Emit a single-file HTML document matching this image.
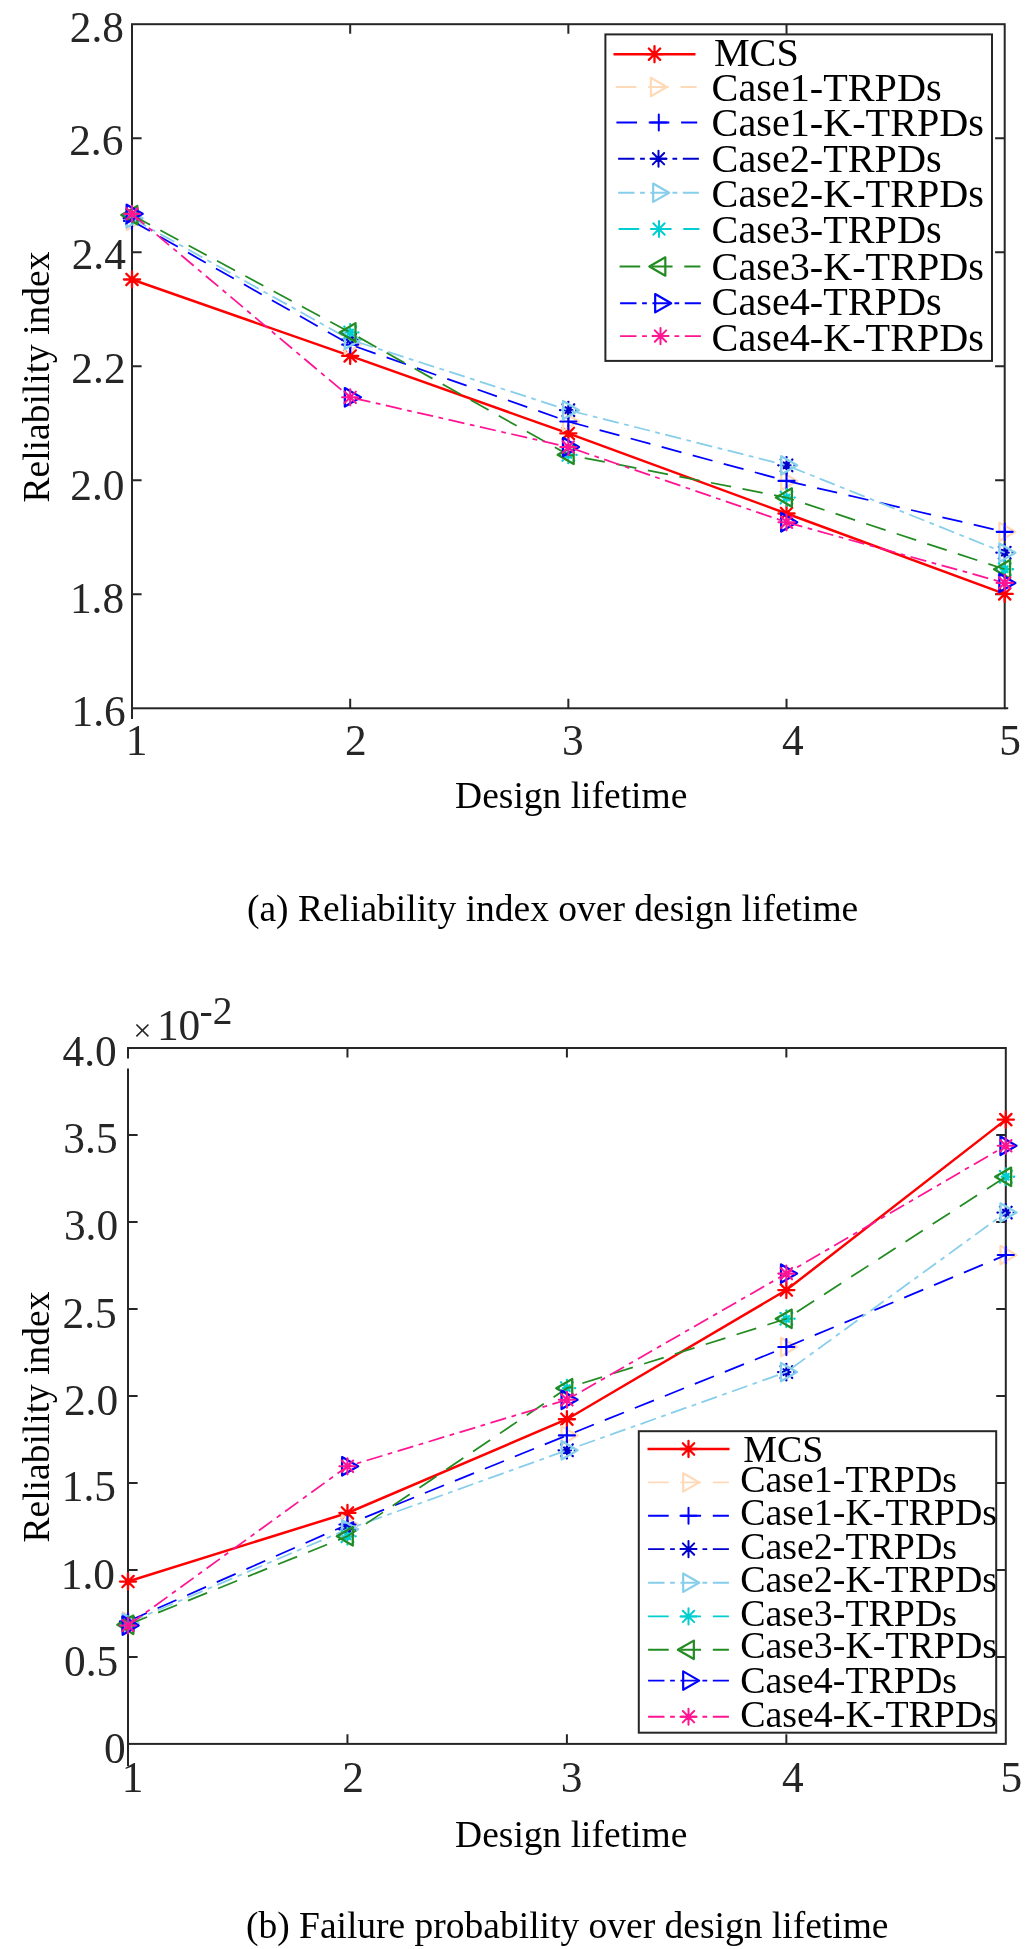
<!DOCTYPE html>
<html><head><meta charset="utf-8"><title>Chart</title>
<style>
html,body{margin:0;padding:0;background:#fff;}
body{width:1025px;height:1949px;overflow:hidden;font-family:"Liberation Serif",serif;}
svg{display:block;position:absolute;left:0;top:0;will-change:transform;}
svg text{font-family:"Liberation Serif",serif;}
</style></head><body>
<svg width="1025" height="1949" viewBox="0 0 1025 1949">
<rect width="1025" height="1949" fill="#fff"/>
<rect x="132.0" y="24.2" width="872.7" height="684.0999999999999" fill="none" stroke="#262626" stroke-width="2.0"/>
<path d="M350.18 708.3V698.6999999999999M350.18 24.2V33.8M568.35 708.3V698.6999999999999M568.35 24.2V33.8M786.53 708.3V698.6999999999999M786.53 24.2V33.8M132.0 138.22H141.6M1004.7 138.22H995.1M132.0 252.23H141.6M1004.7 252.23H995.1M132.0 366.25H141.6M1004.7 366.25H995.1M132.0 480.27H141.6M1004.7 480.27H995.1M132.0 594.28H141.6M1004.7 594.28H995.1" stroke="#262626" stroke-width="2.0" fill="none"/>
<path d="M132.0 708.3V719.0M1004.7 708.3H1008.2" stroke="#262626" stroke-width="2.0"/>
<text x="124.05" y="42.15" font-size="43.4" text-anchor="end" fill="#262626" >2.8</text>
<text x="123.4" y="155.4" font-size="43.4" text-anchor="end" fill="#262626" >2.6</text>
<text x="125.9" y="269.4" font-size="43.4" text-anchor="end" fill="#262626" >2.4</text>
<text x="125.6" y="382.9" font-size="43.4" text-anchor="end" fill="#262626" >2.2</text>
<text x="124.45" y="499.5" font-size="43.4" text-anchor="end" fill="#262626" >2.0</text>
<text x="124.15" y="613.3" font-size="43.4" text-anchor="end" fill="#262626" >1.8</text>
<text x="125.7" y="725.9" font-size="43.4" text-anchor="end" fill="#262626" >1.6</text>
<text x="136.6" y="755.1999999999999" font-size="43.4" text-anchor="middle" fill="#262626" >1</text>
<text x="355.77500000000003" y="755.1999999999999" font-size="43.4" text-anchor="middle" fill="#262626" >2</text>
<text x="572.95" y="755.1999999999999" font-size="43.4" text-anchor="middle" fill="#262626" >3</text>
<text x="792.9250000000001" y="755.1999999999999" font-size="43.4" text-anchor="middle" fill="#262626" >4</text>
<text x="1010.2" y="755.1999999999999" font-size="43.4" text-anchor="middle" fill="#262626" >5</text>
<text x="571.2" y="808.2" font-size="37.5" text-anchor="middle" fill="#000" >Design lifetime</text>
<text x="48.5" y="377" font-size="37.5" text-anchor="middle" fill="#000" transform="rotate(-90 48.5 377)">Reliability index</text>
<text x="552.6" y="920.6" font-size="37.5" text-anchor="middle" fill="#000" >(a) Reliability index over design lifetime</text>
<path d="M132.00 279.48L350.18 355.93L568.35 433.41L786.53 513.50L1004.70 593.94" stroke="#ff0000" stroke-width="2.5" fill="none"/>
<path d="M123.95 279.48H140.05M132.00 271.43V287.53M126.31 273.79L137.69 285.18M126.31 285.18L137.69 273.79" stroke="#ff0000" stroke-width="2.3" fill="none" stroke-linecap="round"/>
<path d="M342.12 355.93H358.23M350.18 347.88V363.98M344.48 350.24L355.87 361.62M344.48 361.62L355.87 350.24" stroke="#ff0000" stroke-width="2.3" fill="none" stroke-linecap="round"/>
<path d="M560.30 433.41H576.40M568.35 425.36V441.46M562.66 427.71L574.04 439.10M562.66 439.10L574.04 427.71" stroke="#ff0000" stroke-width="2.3" fill="none" stroke-linecap="round"/>
<path d="M778.48 513.50H794.58M786.53 505.45V521.55M780.83 507.81L792.22 519.19M780.83 519.19L792.22 507.81" stroke="#ff0000" stroke-width="2.3" fill="none" stroke-linecap="round"/>
<path d="M996.65 593.94H1012.75M1004.70 585.89V601.99M999.01 588.25L1010.39 599.63M999.01 599.63L1010.39 588.25" stroke="#ff0000" stroke-width="2.3" fill="none" stroke-linecap="round"/>
<path d="M126.67 211.68L142.67 220.88L126.67 230.08Z" stroke="#ffdab9" stroke-width="2.3" fill="none" stroke-linejoin="round"/>
<path d="M344.85 335.39L360.85 344.59L344.85 353.79Z" stroke="#ffdab9" stroke-width="2.3" fill="none" stroke-linejoin="round"/>
<path d="M563.02 412.35L579.02 421.55L563.02 430.75Z" stroke="#ffdab9" stroke-width="2.3" fill="none" stroke-linejoin="round"/>
<path d="M781.20 471.69L797.20 480.89L781.20 490.09Z" stroke="#ffdab9" stroke-width="2.3" fill="none" stroke-linejoin="round"/>
<path d="M999.37 522.66L1015.37 531.86L999.37 541.06Z" stroke="#ffdab9" stroke-width="2.3" fill="none" stroke-linejoin="round"/>
<path d="M132.00 220.88L350.18 344.59L568.35 421.55L786.53 480.89L1004.70 531.86" stroke="#0000ff" stroke-width="1.75" fill="none" stroke-dasharray="20.5 11.66"/>
<path d="M123.95 220.88H140.05M132.00 212.83V228.93" stroke="#0000ff" stroke-width="2.1" fill="none" stroke-linecap="round"/>
<path d="M342.12 344.59H358.23M350.18 336.54V352.64" stroke="#0000ff" stroke-width="2.1" fill="none" stroke-linecap="round"/>
<path d="M560.30 421.55H576.40M568.35 413.50V429.60" stroke="#0000ff" stroke-width="2.1" fill="none" stroke-linecap="round"/>
<path d="M778.48 480.89H794.58M786.53 472.84V488.94" stroke="#0000ff" stroke-width="2.1" fill="none" stroke-linecap="round"/>
<path d="M996.65 531.86H1012.75M1004.70 523.81V539.91" stroke="#0000ff" stroke-width="2.1" fill="none" stroke-linecap="round"/>
<path d="M123.70 218.26L140.30 218.26M132.00 209.96L132.00 226.56M137.87 212.39L126.13 224.13M137.87 224.13L126.13 212.39" stroke="#0000cd" stroke-width="2.3" fill="none" stroke-linecap="round" stroke-dasharray="0.4 3.9 8 3.9 0.4 100"/>
<path d="M341.88 339.68L358.48 339.68M350.18 331.38L350.18 347.98M356.04 333.82L344.31 345.55M356.04 345.55L344.31 333.82" stroke="#0000cd" stroke-width="2.3" fill="none" stroke-linecap="round" stroke-dasharray="0.4 3.9 8 3.9 0.4 100"/>
<path d="M560.05 410.15L576.65 410.15M568.35 401.85L568.35 418.45M574.22 404.28L562.48 416.02M574.22 416.02L562.48 404.28" stroke="#0000cd" stroke-width="2.3" fill="none" stroke-linecap="round" stroke-dasharray="0.4 3.9 8 3.9 0.4 100"/>
<path d="M778.23 465.33L794.83 465.33M786.53 457.03L786.53 473.63M792.39 459.46L780.66 471.20M792.39 471.20L780.66 459.46" stroke="#0000cd" stroke-width="2.3" fill="none" stroke-linecap="round" stroke-dasharray="0.4 3.9 8 3.9 0.4 100"/>
<path d="M996.40 552.72L1013.00 552.72M1004.70 544.42L1004.70 561.02M1010.57 546.86L998.83 558.59M1010.57 558.59L998.83 546.86" stroke="#0000cd" stroke-width="2.3" fill="none" stroke-linecap="round" stroke-dasharray="0.4 3.9 8 3.9 0.4 100"/>
<path d="M132.00 218.26L350.18 339.68L568.35 410.15L786.53 465.33L1004.70 552.72" stroke="#87ceeb" stroke-width="1.75" fill="none" stroke-dasharray="16.3 5.57 4.72 5.57"/>
<path d="M126.67 209.06L142.67 218.26L126.67 227.46Z" stroke="#87ceeb" stroke-width="2.3" fill="none" stroke-linejoin="round"/>
<path d="M344.85 330.48L360.85 339.68L344.85 348.88Z" stroke="#87ceeb" stroke-width="2.3" fill="none" stroke-linejoin="round"/>
<path d="M563.02 400.95L579.02 410.15L563.02 419.35Z" stroke="#87ceeb" stroke-width="2.3" fill="none" stroke-linejoin="round"/>
<path d="M781.20 456.13L797.20 465.33L781.20 474.53Z" stroke="#87ceeb" stroke-width="2.3" fill="none" stroke-linejoin="round"/>
<path d="M999.37 543.52L1015.37 552.72L999.37 561.92Z" stroke="#87ceeb" stroke-width="2.3" fill="none" stroke-linejoin="round"/>
<path d="M123.70 215.12L140.30 215.12M132.00 206.82L132.00 223.42M137.87 209.25L126.13 220.99M137.87 220.99L126.13 209.25" stroke="#00ced1" stroke-width="2.3" fill="none" stroke-linecap="round" stroke-dasharray="0.4 3.9 8 3.9 0.4 100"/>
<path d="M341.88 332.44L358.48 332.44M350.18 324.14L350.18 340.74M356.04 326.58L344.31 338.31M356.04 338.31L344.31 326.58" stroke="#00ced1" stroke-width="2.3" fill="none" stroke-linecap="round" stroke-dasharray="0.4 3.9 8 3.9 0.4 100"/>
<path d="M560.05 454.84L576.65 454.84M568.35 446.54L568.35 463.14M574.22 448.97L562.48 460.71M574.22 460.71L562.48 448.97" stroke="#00ced1" stroke-width="2.3" fill="none" stroke-linecap="round" stroke-dasharray="0.4 3.9 8 3.9 0.4 100"/>
<path d="M778.23 497.54L794.83 497.54M786.53 489.24L786.53 505.84M792.39 491.67L780.66 503.41M792.39 503.41L780.66 491.67" stroke="#00ced1" stroke-width="2.3" fill="none" stroke-linecap="round" stroke-dasharray="0.4 3.9 8 3.9 0.4 100"/>
<path d="M996.40 569.26L1013.00 569.26M1004.70 560.96L1004.70 577.56M1010.57 563.39L998.83 575.13M1010.57 575.13L998.83 563.39" stroke="#00ced1" stroke-width="2.3" fill="none" stroke-linecap="round" stroke-dasharray="0.4 3.9 8 3.9 0.4 100"/>
<path d="M132.00 215.12L350.18 332.44L568.35 454.84L786.53 497.54L1004.70 569.26" stroke="#228b22" stroke-width="1.75" fill="none" stroke-dasharray="20.5 11.66"/>
<path d="M137.33 205.92L121.33 215.12L137.33 224.32Z" stroke="#228b22" stroke-width="2.3" fill="none" stroke-linejoin="round"/>
<path d="M355.50 323.24L339.50 332.44L355.50 341.64Z" stroke="#228b22" stroke-width="2.3" fill="none" stroke-linejoin="round"/>
<path d="M573.68 445.64L557.68 454.84L573.68 464.04Z" stroke="#228b22" stroke-width="2.3" fill="none" stroke-linejoin="round"/>
<path d="M791.86 488.34L775.86 497.54L791.86 506.74Z" stroke="#228b22" stroke-width="2.3" fill="none" stroke-linejoin="round"/>
<path d="M1010.03 560.06L994.03 569.26L1010.03 578.46Z" stroke="#228b22" stroke-width="2.3" fill="none" stroke-linejoin="round"/>
<path d="M126.67 204.67L142.67 213.87L126.67 223.07Z" stroke="#0000ff" stroke-width="2.3" fill="none" stroke-linejoin="round"/>
<path d="M344.85 388.12L360.85 397.32L344.85 406.52Z" stroke="#0000ff" stroke-width="2.3" fill="none" stroke-linejoin="round"/>
<path d="M563.02 437.83L579.02 447.03L563.02 456.23Z" stroke="#0000ff" stroke-width="2.3" fill="none" stroke-linejoin="round"/>
<path d="M781.20 513.08L797.20 522.28L781.20 531.48Z" stroke="#0000ff" stroke-width="2.3" fill="none" stroke-linejoin="round"/>
<path d="M999.37 573.68L1015.37 582.88L999.37 592.08Z" stroke="#0000ff" stroke-width="2.3" fill="none" stroke-linejoin="round"/>
<path d="M132.00 213.87L350.18 397.32L568.35 447.03L786.53 522.28L1004.70 582.88" stroke="#ff1493" stroke-width="1.75" fill="none" stroke-dasharray="16.3 5.57 4.72 5.57"/>
<path d="M123.95 213.87H140.05M132.00 205.82V221.92M126.31 208.17L137.69 219.56M126.31 219.56L137.69 208.17" stroke="#ff1493" stroke-width="2.1" fill="none" stroke-linecap="round"/>
<path d="M342.12 397.32H358.23M350.18 389.27V405.37M344.48 391.63L355.87 403.01M344.48 403.01L355.87 391.63" stroke="#ff1493" stroke-width="2.1" fill="none" stroke-linecap="round"/>
<path d="M560.30 447.03H576.40M568.35 438.98V455.08M562.66 441.34L574.04 452.72M562.66 452.72L574.04 441.34" stroke="#ff1493" stroke-width="2.1" fill="none" stroke-linecap="round"/>
<path d="M778.48 522.28H794.58M786.53 514.23V530.33M780.83 516.59L792.22 527.97M780.83 527.97L792.22 516.59" stroke="#ff1493" stroke-width="2.1" fill="none" stroke-linecap="round"/>
<path d="M996.65 582.88H1012.75M1004.70 574.83V590.93M999.01 577.19L1010.39 588.57M999.01 588.57L1010.39 577.19" stroke="#ff1493" stroke-width="2.1" fill="none" stroke-linecap="round"/>
<rect x="605.4" y="34.4" width="386.6" height="326.5" fill="#fff" stroke="#262626" stroke-width="2.0"/>
<path d="M613.50 54.20H695.50" stroke="#ff0000" stroke-width="2.6" fill="none"/>
<path d="M646.45 54.20H662.55M654.50 46.15V62.25M648.81 48.51L660.19 59.89M648.81 59.89L660.19 48.51" stroke="#ff0000" stroke-width="2.3" fill="none" stroke-linecap="round"/>
<text x="713.9" y="65.5" font-size="40.2" text-anchor="start" fill="#000" >MCS</text>
<path d="M615.80 87.00H696.60" stroke="#ffdab9" stroke-width="1.9" fill="none" stroke-dasharray="20.6 11.75"/>
<path d="M650.87 77.80L666.87 87.00L650.87 96.20Z" stroke="#ffdab9" stroke-width="2.1999999999999997" fill="none" stroke-linejoin="round"/>
<text x="711.6" y="100.7" font-size="40.2" text-anchor="start" fill="#000" >Case1-TRPDs</text>
<path d="M616.40 122.50H697.20" stroke="#0000ff" stroke-width="1.9" fill="none" stroke-dasharray="20.6 11.75"/>
<path d="M650.75 122.50H666.85M658.80 114.45V130.55" stroke="#0000ff" stroke-width="2.0" fill="none" stroke-linecap="round"/>
<text x="711.6" y="135.9" font-size="40.2" text-anchor="start" fill="#000" >Case1-K-TRPDs</text>
<path d="M618.10 158.70H698.90" stroke="#0000cd" stroke-width="1.9" fill="none" stroke-dasharray="16.4 5.6 4.75 5.6"/>
<path d="M650.45 158.70H666.55M658.50 150.65V166.75M652.81 153.01L664.19 164.39M652.81 164.39L664.19 153.01" stroke="#0000cd" stroke-width="2.0" fill="none" stroke-linecap="round"/>
<text x="711.6" y="171.5" font-size="40.2" text-anchor="start" fill="#000" >Case2-TRPDs</text>
<path d="M618.10 192.70H698.90" stroke="#87ceeb" stroke-width="1.9" fill="none" stroke-dasharray="16.4 5.6 4.75 5.6"/>
<path d="M653.17 183.50L669.17 192.70L653.17 201.90Z" stroke="#87ceeb" stroke-width="2.1999999999999997" fill="none" stroke-linejoin="round"/>
<text x="711.6" y="207.2" font-size="40.2" text-anchor="start" fill="#000" >Case2-K-TRPDs</text>
<path d="M618.60 229.00H699.40" stroke="#00ced1" stroke-width="1.9" fill="none" stroke-dasharray="20.6 11.75"/>
<path d="M650.95 229.00H667.05M659.00 220.95V237.05M653.31 223.31L664.69 234.69M653.31 234.69L664.69 223.31" stroke="#00ced1" stroke-width="2.0" fill="none" stroke-linecap="round"/>
<text x="711.6" y="242.8" font-size="40.2" text-anchor="start" fill="#000" >Case3-TRPDs</text>
<path d="M619.60 266.50H700.40" stroke="#228b22" stroke-width="1.9" fill="none" stroke-dasharray="20.6 11.75"/>
<path d="M665.33 257.30L649.33 266.50L665.33 275.70Z" stroke="#228b22" stroke-width="2.1999999999999997" fill="none" stroke-linejoin="round"/>
<text x="711.6" y="279.7" font-size="40.2" text-anchor="start" fill="#000" >Case3-K-TRPDs</text>
<path d="M620.10 303.20H700.90" stroke="#0000ff" stroke-width="1.9" fill="none" stroke-dasharray="16.4 5.6 4.75 5.6"/>
<path d="M655.17 294.00L671.17 303.20L655.17 312.40Z" stroke="#0000ff" stroke-width="2.1999999999999997" fill="none" stroke-linejoin="round"/>
<text x="711.6" y="315.0" font-size="40.2" text-anchor="start" fill="#000" >Case4-TRPDs</text>
<path d="M620.10 336.10H700.90" stroke="#ff1493" stroke-width="1.9" fill="none" stroke-dasharray="16.4 5.6 4.75 5.6"/>
<path d="M652.45 336.10H668.55M660.50 328.05V344.15M654.81 330.41L666.19 341.79M654.81 341.79L666.19 330.41" stroke="#ff1493" stroke-width="2.0" fill="none" stroke-linecap="round"/>
<text x="711.6" y="350.6" font-size="40.2" text-anchor="start" fill="#000" >Case4-K-TRPDs</text>
<rect x="128.0" y="1048.0" width="877.8" height="695.9000000000001" fill="none" stroke="#262626" stroke-width="2.0"/>
<path d="M347.45 1743.9V1734.3000000000002M347.45 1048.0V1057.6M566.90 1743.9V1734.3000000000002M566.90 1048.0V1057.6M786.35 1743.9V1734.3000000000002M786.35 1048.0V1057.6M128.0 1134.99H137.6M1005.8 1134.99H996.1999999999999M128.0 1221.97H137.6M1005.8 1221.97H996.1999999999999M128.0 1308.96H137.6M1005.8 1308.96H996.1999999999999M128.0 1395.95H137.6M1005.8 1395.95H996.1999999999999M128.0 1482.94H137.6M1005.8 1482.94H996.1999999999999M128.0 1569.93H137.6M1005.8 1569.93H996.1999999999999M128.0 1656.91H137.6M1005.8 1656.91H996.1999999999999" stroke="#262626" stroke-width="2.0" fill="none"/>
<path d="M128.0 1743.9V1765.9M128.0 1048.0V1058.5" stroke="#262626" stroke-width="2.0"/>
<path d="M128.0 1058.5V1068.5" stroke="#fff" stroke-width="3"/>
<text x="116.8" y="1065.7" font-size="43.4" text-anchor="end" fill="#262626" >4.0</text>
<text x="117.6" y="1153.1" font-size="43.4" text-anchor="end" fill="#262626" >3.5</text>
<text x="118.15" y="1240.3" font-size="43.4" text-anchor="end" fill="#262626" >3.0</text>
<text x="116.7" y="1327.9" font-size="43.4" text-anchor="end" fill="#262626" >2.5</text>
<text x="118.15" y="1414.7" font-size="43.4" text-anchor="end" fill="#262626" >2.0</text>
<text x="116.0" y="1500.7" font-size="43.4" text-anchor="end" fill="#262626" >1.5</text>
<text x="115.05" y="1588.5" font-size="43.4" text-anchor="end" fill="#262626" >1.0</text>
<text x="118.2" y="1676.2" font-size="43.4" text-anchor="end" fill="#262626" >0.5</text>
<text x="125.65" y="1763.3" font-size="43.4" text-anchor="end" fill="#262626" >0</text>
<text x="132.6" y="1792.2" font-size="43.4" text-anchor="middle" fill="#262626" >1</text>
<text x="353.05" y="1791.5" font-size="43.4" text-anchor="middle" fill="#262626" >2</text>
<text x="571.5" y="1791.5" font-size="43.4" text-anchor="middle" fill="#262626" >3</text>
<text x="792.7499999999999" y="1791.5" font-size="43.4" text-anchor="middle" fill="#262626" >4</text>
<text x="1011.3" y="1791.5" font-size="43.4" text-anchor="middle" fill="#262626" >5</text>
<text x="571.2" y="1847.2" font-size="37.5" text-anchor="middle" fill="#000" >Design lifetime</text>
<text x="48.5" y="1417" font-size="37.5" text-anchor="middle" fill="#000" transform="rotate(-90 48.5 1417)">Reliability index</text>
<text x="567.2" y="1937.7" font-size="37.5" text-anchor="middle" fill="#000" >(b) Failure probability over design lifetime</text>
<text x="133.2" y="1040.8" font-size="32.4" fill="#262626">×</text><text x="156.9" y="1040.3" font-size="43.4" fill="#262626">10</text><text x="199.6" y="1024" font-size="39.5" fill="#262626">-2</text>
<path d="M128.00 1581.56L347.45 1512.97L566.90 1419.23L786.35 1290.06L1005.80 1119.63" stroke="#ff0000" stroke-width="2.5" fill="none"/>
<path d="M119.95 1581.56H136.05M128.00 1573.51V1589.61M122.31 1575.87L133.69 1587.25M122.31 1587.25L133.69 1575.87" stroke="#ff0000" stroke-width="2.3" fill="none" stroke-linecap="round"/>
<path d="M339.40 1512.97H355.50M347.45 1504.92V1521.02M341.76 1507.27L353.14 1518.66M341.76 1518.66L353.14 1507.27" stroke="#ff0000" stroke-width="2.3" fill="none" stroke-linecap="round"/>
<path d="M558.85 1419.23H574.95M566.90 1411.18V1427.28M561.21 1413.53L572.59 1424.92M561.21 1424.92L572.59 1413.53" stroke="#ff0000" stroke-width="2.3" fill="none" stroke-linecap="round"/>
<path d="M778.30 1290.06H794.40M786.35 1282.01V1298.11M780.66 1284.36L792.04 1295.75M780.66 1295.75L792.04 1284.36" stroke="#ff0000" stroke-width="2.3" fill="none" stroke-linecap="round"/>
<path d="M997.75 1119.63H1013.85M1005.80 1111.58V1127.68M1000.11 1113.93L1011.49 1125.32M1000.11 1125.32L1011.49 1113.93" stroke="#ff0000" stroke-width="2.3" fill="none" stroke-linecap="round"/>
<path d="M122.67 1612.15L138.67 1621.35L122.67 1630.55Z" stroke="#ffdab9" stroke-width="2.3" fill="none" stroke-linejoin="round"/>
<path d="M342.12 1515.31L358.12 1524.51L342.12 1533.71Z" stroke="#ffdab9" stroke-width="2.3" fill="none" stroke-linejoin="round"/>
<path d="M561.57 1426.19L577.57 1435.39L561.57 1444.59Z" stroke="#ffdab9" stroke-width="2.3" fill="none" stroke-linejoin="round"/>
<path d="M781.02 1337.87L797.02 1347.07L781.02 1356.27Z" stroke="#ffdab9" stroke-width="2.3" fill="none" stroke-linejoin="round"/>
<path d="M1000.47 1245.85L1016.47 1255.05L1000.47 1264.25Z" stroke="#ffdab9" stroke-width="2.3" fill="none" stroke-linejoin="round"/>
<path d="M128.00 1621.35L347.45 1524.51L566.90 1435.39L786.35 1347.07L1005.80 1255.05" stroke="#0000ff" stroke-width="1.75" fill="none" stroke-dasharray="20.6 11.75"/>
<path d="M119.95 1621.35H136.05M128.00 1613.30V1629.40" stroke="#0000ff" stroke-width="2.1" fill="none" stroke-linecap="round"/>
<path d="M339.40 1524.51H355.50M347.45 1516.46V1532.56" stroke="#0000ff" stroke-width="2.1" fill="none" stroke-linecap="round"/>
<path d="M558.85 1435.39H574.95M566.90 1427.34V1443.44" stroke="#0000ff" stroke-width="2.1" fill="none" stroke-linecap="round"/>
<path d="M778.30 1347.07H794.40M786.35 1339.02V1355.12" stroke="#0000ff" stroke-width="2.1" fill="none" stroke-linecap="round"/>
<path d="M997.75 1255.05H1013.85M1005.80 1247.00V1263.10" stroke="#0000ff" stroke-width="2.1" fill="none" stroke-linecap="round"/>
<path d="M119.70 1622.91L136.30 1622.91M128.00 1614.61L128.00 1631.21M133.87 1617.04L122.13 1628.78M133.87 1628.78L122.13 1617.04" stroke="#0000cd" stroke-width="2.3" fill="none" stroke-linecap="round" stroke-dasharray="0.4 3.9 8 3.9 0.4 100"/>
<path d="M339.15 1529.34L355.75 1529.34M347.45 1521.04L347.45 1537.64M353.32 1523.47L341.58 1535.21M353.32 1535.21L341.58 1523.47" stroke="#0000cd" stroke-width="2.3" fill="none" stroke-linecap="round" stroke-dasharray="0.4 3.9 8 3.9 0.4 100"/>
<path d="M558.60 1450.28L575.20 1450.28M566.90 1441.98L566.90 1458.58M572.77 1444.41L561.03 1456.15M572.77 1456.15L561.03 1444.41" stroke="#0000cd" stroke-width="2.3" fill="none" stroke-linecap="round" stroke-dasharray="0.4 3.9 8 3.9 0.4 100"/>
<path d="M778.05 1372.08L794.65 1372.08M786.35 1363.78L786.35 1380.38M792.22 1366.21L780.48 1377.95M792.22 1377.95L780.48 1366.21" stroke="#0000cd" stroke-width="2.3" fill="none" stroke-linecap="round" stroke-dasharray="0.4 3.9 8 3.9 0.4 100"/>
<path d="M997.50 1212.56L1014.10 1212.56M1005.80 1204.26L1005.80 1220.86M1011.67 1206.69L999.93 1218.43M1011.67 1218.43L999.93 1206.69" stroke="#0000cd" stroke-width="2.3" fill="none" stroke-linecap="round" stroke-dasharray="0.4 3.9 8 3.9 0.4 100"/>
<path d="M128.00 1622.91L347.45 1529.34L566.90 1450.28L786.35 1372.08L1005.80 1212.56" stroke="#87ceeb" stroke-width="1.75" fill="none" stroke-dasharray="16.4 5.6 4.75 5.6"/>
<path d="M122.67 1613.71L138.67 1622.91L122.67 1632.11Z" stroke="#87ceeb" stroke-width="2.3" fill="none" stroke-linejoin="round"/>
<path d="M342.12 1520.14L358.12 1529.34L342.12 1538.54Z" stroke="#87ceeb" stroke-width="2.3" fill="none" stroke-linejoin="round"/>
<path d="M561.57 1441.08L577.57 1450.28L561.57 1459.48Z" stroke="#87ceeb" stroke-width="2.3" fill="none" stroke-linejoin="round"/>
<path d="M781.02 1362.88L797.02 1372.08L781.02 1381.28Z" stroke="#87ceeb" stroke-width="2.3" fill="none" stroke-linejoin="round"/>
<path d="M1000.47 1203.36L1016.47 1212.56L1000.47 1221.76Z" stroke="#87ceeb" stroke-width="2.3" fill="none" stroke-linejoin="round"/>
<path d="M119.70 1624.75L136.30 1624.75M128.00 1616.45L128.00 1633.05M133.87 1618.88L122.13 1630.62M133.87 1630.62L122.13 1618.88" stroke="#00ced1" stroke-width="2.3" fill="none" stroke-linecap="round" stroke-dasharray="0.4 3.9 8 3.9 0.4 100"/>
<path d="M339.15 1536.31L355.75 1536.31M347.45 1528.01L347.45 1544.61M353.32 1530.44L341.58 1542.18M353.32 1542.18L341.58 1530.44" stroke="#00ced1" stroke-width="2.3" fill="none" stroke-linecap="round" stroke-dasharray="0.4 3.9 8 3.9 0.4 100"/>
<path d="M558.60 1388.17L575.20 1388.17M566.90 1379.87L566.90 1396.47M572.77 1382.30L561.03 1394.04M572.77 1394.04L561.03 1382.30" stroke="#00ced1" stroke-width="2.3" fill="none" stroke-linecap="round" stroke-dasharray="0.4 3.9 8 3.9 0.4 100"/>
<path d="M778.05 1318.77L794.65 1318.77M786.35 1310.47L786.35 1327.07M792.22 1312.90L780.48 1324.64M792.22 1324.64L780.48 1312.90" stroke="#00ced1" stroke-width="2.3" fill="none" stroke-linecap="round" stroke-dasharray="0.4 3.9 8 3.9 0.4 100"/>
<path d="M997.50 1176.76L1014.10 1176.76M1005.80 1168.46L1005.80 1185.06M1011.67 1170.89L999.93 1182.63M1011.67 1182.63L999.93 1170.89" stroke="#00ced1" stroke-width="2.3" fill="none" stroke-linecap="round" stroke-dasharray="0.4 3.9 8 3.9 0.4 100"/>
<path d="M128.00 1624.75L347.45 1536.31L566.90 1388.17L786.35 1318.77L1005.80 1176.76" stroke="#228b22" stroke-width="1.75" fill="none" stroke-dasharray="20.6 11.75"/>
<path d="M133.33 1615.55L117.33 1624.75L133.33 1633.95Z" stroke="#228b22" stroke-width="2.3" fill="none" stroke-linejoin="round"/>
<path d="M352.78 1527.11L336.78 1536.31L352.78 1545.51Z" stroke="#228b22" stroke-width="2.3" fill="none" stroke-linejoin="round"/>
<path d="M572.23 1378.97L556.23 1388.17L572.23 1397.37Z" stroke="#228b22" stroke-width="2.3" fill="none" stroke-linejoin="round"/>
<path d="M791.68 1309.57L775.68 1318.77L791.68 1327.97Z" stroke="#228b22" stroke-width="2.3" fill="none" stroke-linejoin="round"/>
<path d="M1011.13 1167.56L995.13 1176.76L1011.13 1185.96Z" stroke="#228b22" stroke-width="2.3" fill="none" stroke-linejoin="round"/>
<path d="M122.67 1616.28L138.67 1625.48L122.67 1634.68Z" stroke="#0000ff" stroke-width="2.3" fill="none" stroke-linejoin="round"/>
<path d="M342.12 1457.10L358.12 1466.30L342.12 1475.50Z" stroke="#0000ff" stroke-width="2.3" fill="none" stroke-linejoin="round"/>
<path d="M561.57 1390.57L577.57 1399.77L561.57 1408.97Z" stroke="#0000ff" stroke-width="2.3" fill="none" stroke-linejoin="round"/>
<path d="M781.02 1264.39L797.02 1273.59L781.02 1282.79Z" stroke="#0000ff" stroke-width="2.3" fill="none" stroke-linejoin="round"/>
<path d="M1000.47 1136.58L1016.47 1145.78L1000.47 1154.98Z" stroke="#0000ff" stroke-width="2.3" fill="none" stroke-linejoin="round"/>
<path d="M128.00 1625.48L347.45 1466.30L566.90 1399.77L786.35 1273.59L1005.80 1145.78" stroke="#ff1493" stroke-width="1.75" fill="none" stroke-dasharray="16.4 5.6 4.75 5.6"/>
<path d="M119.95 1625.48H136.05M128.00 1617.43V1633.53M122.31 1619.79L133.69 1631.17M122.31 1631.17L133.69 1619.79" stroke="#ff1493" stroke-width="2.1" fill="none" stroke-linecap="round"/>
<path d="M339.40 1466.30H355.50M347.45 1458.25V1474.35M341.76 1460.61L353.14 1471.99M341.76 1471.99L353.14 1460.61" stroke="#ff1493" stroke-width="2.1" fill="none" stroke-linecap="round"/>
<path d="M558.85 1399.77H574.95M566.90 1391.72V1407.82M561.21 1394.07L572.59 1405.46M561.21 1405.46L572.59 1394.07" stroke="#ff1493" stroke-width="2.1" fill="none" stroke-linecap="round"/>
<path d="M778.30 1273.59H794.40M786.35 1265.54V1281.64M780.66 1267.89L792.04 1279.28M780.66 1279.28L792.04 1267.89" stroke="#ff1493" stroke-width="2.1" fill="none" stroke-linecap="round"/>
<path d="M997.75 1145.78H1013.85M1005.80 1137.73V1153.83M1000.11 1140.09L1011.49 1151.47M1000.11 1151.47L1011.49 1140.09" stroke="#ff1493" stroke-width="2.1" fill="none" stroke-linecap="round"/>
<rect x="638.8" y="1431.2" width="357.4000000000001" height="301.5" fill="#fff" stroke="#262626" stroke-width="2.0"/>
<path d="M647.50 1449.00H729.50" stroke="#ff0000" stroke-width="2.6" fill="none"/>
<path d="M680.45 1449.00H696.55M688.50 1440.95V1457.05M682.81 1443.31L694.19 1454.69M682.81 1454.69L694.19 1443.31" stroke="#ff0000" stroke-width="2.3" fill="none" stroke-linecap="round"/>
<text x="743.3000000000001" y="1461.6" font-size="37.9" text-anchor="start" fill="#000" >MCS</text>
<path d="M648.10 1482.40H728.90" stroke="#ffdab9" stroke-width="1.9" fill="none" stroke-dasharray="20.6 11.75"/>
<path d="M683.17 1473.20L699.17 1482.40L683.17 1491.60Z" stroke="#ffdab9" stroke-width="2.1999999999999997" fill="none" stroke-linejoin="round"/>
<text x="740.2" y="1491.9" font-size="37.9" text-anchor="start" fill="#000" >Case1-TRPDs</text>
<path d="M648.10 1515.70H728.90" stroke="#0000ff" stroke-width="1.9" fill="none" stroke-dasharray="20.6 11.75"/>
<path d="M680.45 1515.70H696.55M688.50 1507.65V1523.75" stroke="#0000ff" stroke-width="2.0" fill="none" stroke-linecap="round"/>
<text x="740.2" y="1524.5" font-size="37.9" text-anchor="start" fill="#000" >Case1-K-TRPDs</text>
<path d="M648.10 1549.10H728.90" stroke="#0000cd" stroke-width="1.9" fill="none" stroke-dasharray="16.4 5.6 4.75 5.6"/>
<path d="M680.45 1549.10H696.55M688.50 1541.05V1557.15M682.81 1543.41L694.19 1554.79M682.81 1554.79L694.19 1543.41" stroke="#0000cd" stroke-width="2.0" fill="none" stroke-linecap="round"/>
<text x="740.2" y="1558.7" font-size="37.9" text-anchor="start" fill="#000" >Case2-TRPDs</text>
<path d="M648.10 1582.70H728.90" stroke="#87ceeb" stroke-width="1.9" fill="none" stroke-dasharray="16.4 5.6 4.75 5.6"/>
<path d="M683.17 1573.50L699.17 1582.70L683.17 1591.90Z" stroke="#87ceeb" stroke-width="2.1999999999999997" fill="none" stroke-linejoin="round"/>
<text x="740.2" y="1592.1" font-size="37.9" text-anchor="start" fill="#000" >Case2-K-TRPDs</text>
<path d="M648.10 1616.40H728.90" stroke="#00ced1" stroke-width="1.9" fill="none" stroke-dasharray="20.6 11.75"/>
<path d="M680.45 1616.40H696.55M688.50 1608.35V1624.45M682.81 1610.71L694.19 1622.09M682.81 1622.09L694.19 1610.71" stroke="#00ced1" stroke-width="2.0" fill="none" stroke-linecap="round"/>
<text x="740.2" y="1625.7" font-size="37.9" text-anchor="start" fill="#000" >Case3-TRPDs</text>
<path d="M648.10 1649.80H728.90" stroke="#228b22" stroke-width="1.9" fill="none" stroke-dasharray="20.6 11.75"/>
<path d="M693.83 1640.60L677.83 1649.80L693.83 1659.00Z" stroke="#228b22" stroke-width="2.1999999999999997" fill="none" stroke-linejoin="round"/>
<text x="740.2" y="1658.4" font-size="37.9" text-anchor="start" fill="#000" >Case3-K-TRPDs</text>
<path d="M648.10 1680.60H728.90" stroke="#0000ff" stroke-width="1.9" fill="none" stroke-dasharray="16.4 5.6 4.75 5.6"/>
<path d="M683.17 1671.40L699.17 1680.60L683.17 1689.80Z" stroke="#0000ff" stroke-width="2.1999999999999997" fill="none" stroke-linejoin="round"/>
<text x="740.2" y="1692.6" font-size="37.9" text-anchor="start" fill="#000" >Case4-TRPDs</text>
<path d="M648.10 1716.70H728.90" stroke="#ff1493" stroke-width="1.9" fill="none" stroke-dasharray="16.4 5.6 4.75 5.6"/>
<path d="M680.45 1716.70H696.55M688.50 1708.65V1724.75M682.81 1711.01L694.19 1722.39M682.81 1722.39L694.19 1711.01" stroke="#ff1493" stroke-width="2.0" fill="none" stroke-linecap="round"/>
<text x="740.2" y="1727.2" font-size="37.9" text-anchor="start" fill="#000" >Case4-K-TRPDs</text>
</svg>
</body></html>
